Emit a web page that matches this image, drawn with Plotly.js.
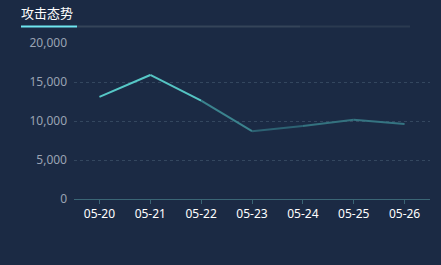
<!DOCTYPE html>
<html>
<head>
<meta charset="utf-8">
<script src="https://cdn.plot.ly/plotly-3.0.1.min.js"></script>
<style>
html,body{margin:0;padding:0;background:#1b2a44;}
#chart{width:441px;height:265px;}
</style>
</head>
<body>
<div id="chart"></div>
<script>
const categories = ['05-20','05-21','05-22','05-23','05-24','05-25','05-26'];
const attacks = [13100, 15900, 12600, 8700, 9350, 10150, 9600];
const yTicks = [0, 5000, 10000, 15000, 20000];
const yTickLabels = ['0','5,000','10,000','15,000','20,000'];
const chartTitle = '攻击态势';

function lerpColor(v){
  const lo = 8700, hi = 15900;
  let t = Math.max(0, Math.min(1, (v - lo) / (hi - lo)));
  t = Math.pow(t, 0.9);
  const c0 = [42, 90, 108], c1 = [96, 224, 218];
  const c = c0.map((a,i)=>Math.round(a + (c1[i]-a)*t));
  return 'rgb(' + c.join(',') + ')';
}

const traces = [];
for (let i = 0; i < categories.length - 1; i++) {
  const mean = (attacks[i] + attacks[i+1]) / 2;
  traces.push({
    type: 'scatter', mode: 'lines',
    x: [categories[i], categories[i+1]],
    y: [attacks[i], attacks[i+1]],
    line: {color: lerpColor(mean), width: 2},
    hoverinfo: 'skip', showlegend: false
  });
}

const layout = {
  width: 441, height: 265,
  margin: {l: 74, r: 11, t: 43, b: 66},
  paper_bgcolor: '#1b2a44',
  plot_bgcolor: 'rgba(0,0,0,0)',
  font: {family: '"Noto Sans CJK SC", "Microsoft YaHei", sans-serif'},
  title: {
    text: chartTitle,
    font: {size: 13, color: '#ffffff', family: '"Noto Sans CJK SC", sans-serif'},
    xref: 'container', yref: 'container',
    x: 21/441, xanchor: 'left', y: 1 - 13/265, yanchor: 'middle'
  },
  xaxis: {
    type: 'category',
    categoryorder: 'array', categoryarray: categories,
    range: [-0.5, categories.length - 0.5],
    showgrid: false, zeroline: false,
    showline: true, linecolor: '#3b6676', linewidth: 1,
    ticks: 'outside', ticklen: 4, tickcolor: '#3b6676',
    tickfont: {size: 12, color: '#ffffff', family: '"Noto Sans", sans-serif'},
    fixedrange: true
  },
  yaxis: {
    range: [0, 20000],
    tickvals: yTicks, ticktext: yTickLabels,
    showgrid: true, gridcolor: '#34475f', griddash: 'dot', gridwidth: 1,
    zeroline: false, showline: false,
    ticks: '', ticklabelstandoff: 6,
    tickfont: {size: 12, color: '#9aa3b3', family: '"Noto Sans", sans-serif'},
    fixedrange: true
  },
  shapes: [
    {type: 'line', xref: 'paper', yref: 'paper',
     x0: (77-74)/356, x1: (300-74)/356, y0: 1 + (43-26.5)/156, y1: 1 + (43-26.5)/156,
     line: {color: '#354459', width: 2}},
    {type: 'line', xref: 'paper', yref: 'paper',
     x0: (300-74)/356, x1: (410-74)/356, y0: 1 + (43-26.5)/156, y1: 1 + (43-26.5)/156,
     line: {color: '#2b3a50', width: 2}},
    {type: 'line', xref: 'paper', yref: 'paper',
     x0: (21-74)/356, x1: (77-74)/356, y0: 1 + (43-26.5)/156, y1: 1 + (43-26.5)/156,
     line: {color: '#6fe6f0', width: 2}}
  ]
};

Plotly.newPlot('chart', traces, layout, {displayModeBar: false, staticPlot: true});
</script>
</body>
</html>
